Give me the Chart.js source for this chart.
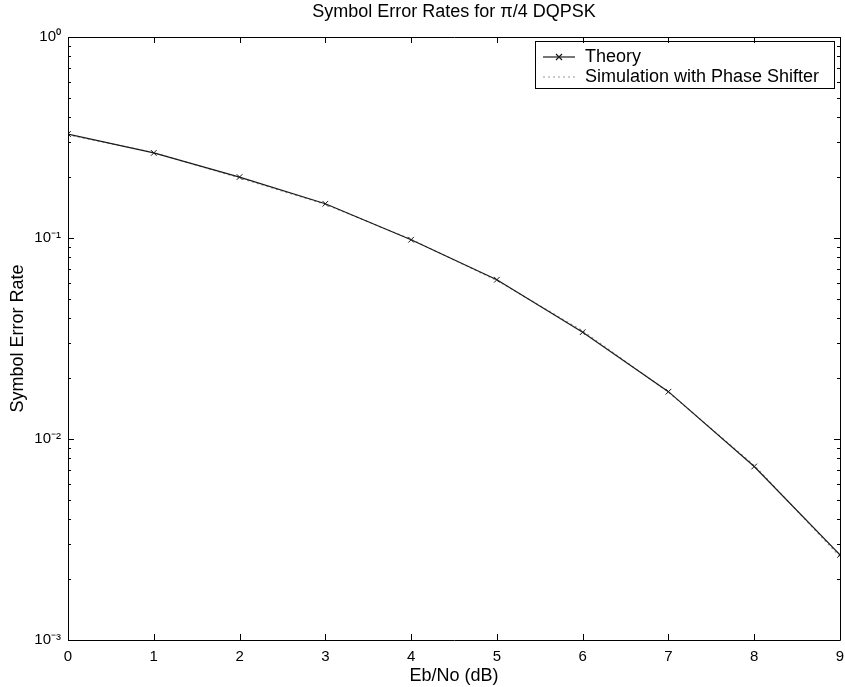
<!DOCTYPE html>
<html>
<head>
<meta charset="utf-8">
<script src="https://cdn.jsdelivr.net/npm/chart.js@4"></script>
<style>
html, body { margin: 0; padding: 0; background: #fff; }
</style>
</head>
<body>
<canvas id="ser" width="845" height="687"></canvas>
<script>
// data
var ebno = [0, 1, 2, 3, 4, 5, 6, 7, 8, 9];
var theory = [0.329, 0.265, 0.201, 0.148, 0.098, 0.062, 0.034, 0.0172, 0.0073, 0.00265];
var simulation = [0.326, 0.266, 0.199, 0.147, 0.0985, 0.0615, 0.0345, 0.0171, 0.0074, 0.0026];
var seriesNames = ['Theory', 'Simulation with Phase Shifter'];
var decadeTicks = [0.001, 0.01, 0.1, 1];
var decadeLabels = ['10\u207B\u00B3', '10\u207B\u00B2', '10\u207B\u00B9', '10\u2070'];

var FONT = '"Liberation Sans", Arial, sans-serif';

// matlab style frame with ticks pointing inwards
var frameTicks = {
    id: 'frameTicks',
    afterDraw: function(chart) {
        var ctx = chart.ctx, a = chart.chartArea;
        var xs = chart.scales.x, ys = chart.scales.y;
        ctx.save();
        ctx.strokeStyle = '#000';
        ctx.lineWidth = 1;
        ctx.beginPath();
        ctx.rect(Math.round(a.left) + 0.5, Math.round(a.top) + 0.5, Math.round(a.right - a.left), Math.round(a.bottom - a.top));
        xs.ticks.forEach(function(t) {
            var px = Math.round(xs.getPixelForValue(t.value)) + 0.5;
            ctx.moveTo(px, a.bottom); ctx.lineTo(px, a.bottom - 6);
            ctx.moveTo(px, a.top); ctx.lineTo(px, a.top + 6);
        });
        for (var e = -3; e <= 0; e++) {
            for (var m = 1; m < 10; m++) {
                var v = m * Math.pow(10, e);
                if (v > 1) break;
                var py = Math.round(ys.getPixelForValue(v)) + 0.5;
                var len = m == 1 ? 6 : 3;
                ctx.moveTo(a.left, py); ctx.lineTo(a.left + len, py);
                ctx.moveTo(a.right, py); ctx.lineTo(a.right - len, py);
            }
        }
        ctx.stroke();
        ctx.restore();
    }
};

// legend box in the upper right corner of the axes
var boxLegend = {
    id: 'boxLegend',
    afterDatasetsDraw: function(chart) {
        var ctx = chart.ctx, a = chart.chartArea;
        var w = 299, h = 47;
        var x0 = Math.round(a.right - 6 - w), y0 = Math.round(a.top + 4);
        ctx.save();
        ctx.fillStyle = '#fff';
        ctx.fillRect(x0, y0, w, h);
        ctx.strokeStyle = '#000';
        ctx.lineWidth = 1;
        ctx.strokeRect(x0 + 0.5, y0 + 0.5, w, h);
        ctx.font = '18px ' + FONT;
        ctx.textBaseline = 'middle';
        chart.data.datasets.forEach(function(ds, i) {
            var y = y0 + 16 + i * 20;
            ctx.strokeStyle = ds.borderColor;
            ctx.lineWidth = ds.borderWidth;
            ctx.setLineDash(ds.borderDash || []);
            ctx.beginPath();
            ctx.moveTo(x0 + 8, y); ctx.lineTo(x0 + 40, y);
            ctx.stroke();
            ctx.setLineDash([]);
            if (ds.pointRadius > 0) {
                ctx.beginPath();
                ctx.moveTo(x0 + 21, y - 3); ctx.lineTo(x0 + 27, y + 3);
                ctx.moveTo(x0 + 21, y + 3); ctx.lineTo(x0 + 27, y - 3);
                ctx.stroke();
            }
            ctx.fillStyle = '#000';
            ctx.fillText(ds.label, x0 + 50, y);
        });
        ctx.restore();
    }
};

var ctx = document.getElementById('ser');
var serChart = new Chart(ctx, {
    type: 'line',
    data: {
        labels: ebno,
        datasets: [{
            label: seriesNames[0],
            data: ebno.map(function(x, i) { return {x: x, y: theory[i]}; }),
            borderColor: '#1a1a1a',
            borderWidth: 1.2,
            pointStyle: 'crossRot',
            pointRadius: 4,
            pointBorderColor: '#1a1a1a',
            pointBorderWidth: 1,
            tension: 0
        }, {
            label: seriesNames[1],
            data: ebno.map(function(x, i) { return {x: x, y: simulation[i]}; }),
            borderColor: '#9a9a9a',
            borderWidth: 1.2,
            borderDash: [2, 3],
            pointRadius: 0,
            tension: 0
        }]
    },
    options: {
        responsive: false,
        animation: false,
        layout: { padding: { left: 0, right: 1, top: 0, bottom: 0 } },
        plugins: {
            legend: { display: false },
            tooltip: { enabled: false },
            title: {
                display: true,
                fullSize: false,
                text: 'Symbol Error Rates for \u03C0/4 DQPSK',
                color: '#000',
                font: { family: FONT, size: 18, weight: 'normal' },
                padding: { top: 1, bottom: 14.4 }
            }
        },
        scales: {
            x: {
                type: 'linear',
                min: 0,
                max: 9,
                grid: { display: false, drawTicks: false },
                border: { display: false },
                ticks: { stepSize: 1, color: '#000', padding: 8, font: { family: FONT, size: 15 } },
                title: {
                    display: true,
                    text: 'Eb/No (dB)',
                    color: '#000',
                    font: { family: FONT, size: 18 },
                    padding: { top: 0, bottom: 0 }
                },
                afterFit: function(scale) {
                    scale.height = 47;
                    scale.paddingLeft = 0;
                    scale.paddingRight = 0;
                }
            },
            y: {
                type: 'logarithmic',
                min: 0.001,
                max: 1,
                grid: { display: false, drawTicks: false },
                border: { display: false },
                afterBuildTicks: function(scale) {
                    scale.ticks = decadeTicks.map(function(v) { return {value: v}; });
                },
                ticks: {
                    color: '#000',
                    padding: 7,
                    font: { family: FONT, size: 15 },
                    callback: function(v) { return decadeLabels[decadeTicks.indexOf(v)]; }
                },
                title: {
                    display: true,
                    text: 'Symbol Error Rate',
                    color: '#000',
                    font: { family: FONT, size: 18 },
                    padding: { top: 7, bottom: 7 }
                },
                afterFit: function(scale) { scale.width = 68; }
            }
        }
    },
    plugins: [frameTicks, boxLegend]
});
</script>
</body>
</html>
